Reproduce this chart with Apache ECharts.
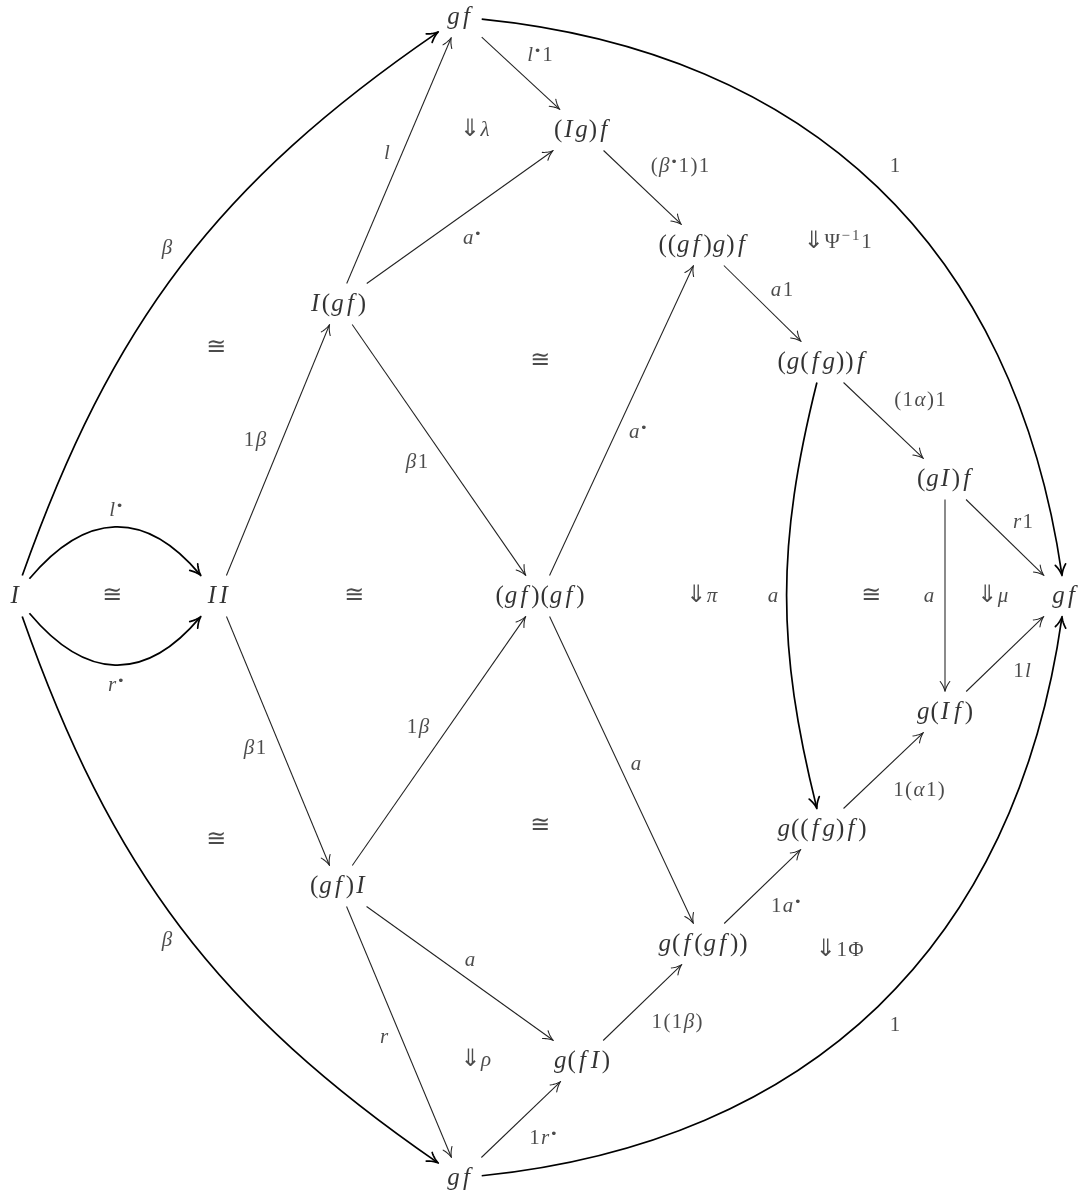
<!DOCTYPE html>
<html><head><meta charset="utf-8">
<script src="https://cdn.jsdelivr.net/npm/echarts@6/dist/echarts.min.js"></script>
<style>html,body{margin:0;padding:0;background:#fff}#c{width:1085px;height:1195px}</style>
</head><body><div id="c"></div>
<script>
// ---- nodes (objects of the diagram) ----
const nodeIds    = ['I','II','gfT','Ig_f','I_gf','gfg_f','gfg2','gI_f','gfR','gfgf','g_If','g_fgf','gf_I','g_fgf2','g_fI','gfB'];
const nodeLabels = ['I','II','gf','(Ig)f','I(gf)','((gf)g)f','(g(fg))f','(gI)f','gf','(gf)(gf)','g(If)','g((fg)f)','(gf)I','g(f(gf))','g(fI)','gf'];
const nodeX      = [15, 218, 460, 582, 338, 703, 822, 945, 1065, 540, 945, 822, 338, 703, 582, 460];
const nodeY      = [596, 596, 17, 130, 304, 245, 362, 479, 596, 596, 712, 829, 886, 944, 1061, 1178];

// ---- arrows (1-cells) ----
const edgeFrom   = ['I','I','gfT','gfB','I','I','II','II','I_gf','gfT','I_gf','Ig_f','I_gf','gfgf','gfg_f','gfg2','gI_f','gI_f','g_If','gfg2','g_fgf','gf_I','gfgf','g_fgf2','gf_I','g_fI','gf_I','gfB'];
const edgeTo     = ['gfT','gfB','gfR','gfR','II','II','I_gf','gf_I','gfT','Ig_f','Ig_f','gfg_f','gfgf','gfg_f','gfg2','gI_f','gfR','g_If','gfR','g_fgf','g_If','gfgf','g_fgf2','g_fgf','g_fI','g_fgf2','gfB','g_fI'];
const edgeText   = ['β','β','1','1','l•','r•','1β','β1','l','l•1','a•','(β•1)1','β1','a•','a1','(1α)1','r1','a','1l','a','1(α1)','1β','a','1a•','a','1(1β)','r','1r•'];
const edgeBend   = [-18, 18, -38, 38, -50, 50, 0,0,0,0,0,0,0,0,0,0,0,0,0, 14, 0,0,0,0,0,0,0,0];
const edgeLoose  = [1, 1, 1.05, 1.05, 1.3, 1.3, 1,1,1,1,1,1,1,1,1,1,1,1,1, 1, 1,1,1,1,1,1,1,1];
const edgeLabelX = [167, 167, 895, 895, 116, 116, 255, 255, 387, 540, 472, 680, 417, 638, 782, 920, 1023, 929, 1022, 773, 919, 418, 636, 786, 470, 677, 384, 543];
const edgeLabelY = [248, 940, 166, 1025, 510, 685, 440, 748, 153, 55, 238, 166, 462, 432, 290, 400, 522, 596, 671, 596, 790, 727, 764, 906, 960, 1022, 1037, 1138];

// ---- 2-cells ----
const cellText = ['⇓λ','⇓Ψ⁻¹1','≅','≅','≅','≅','⇓π','≅','⇓μ','≅','≅','⇓1Φ','⇓ρ'];
const cellX    = [475, 838, 216, 540, 112, 354, 702, 871, 993, 216, 540, 840, 476];
const cellY    = [130, 242, 348, 361, 596, 596, 596, 596, 596, 840, 826, 950, 1060];

const FAM = "'Liberation Serif','DejaVu Serif',serif";
const SYM = "'DejaVu Sans','DejaVu Serif',sans-serif";
const NODE_SIZE = 25, LAB_SIZE = 21;

function charClass(ch){
  if (ch === 'f') return 'f';
  if (ch === 'I') return 'I';
  if (ch === '•') return 'd';
  if (ch === '⁻' || ch === '¹') return 's';
  if (ch === '⇓') return 'y';
  if (ch === '≅') return 'c';
  if (/[a-zA-Zαβλμπρ]/.test(ch)) return 'i';
  return 'u';
}
function mathRich(s){
  let out = '';
  for (const ch of s){
    const k = charClass(ch);
    let t = ch;
    if (ch === '⁻') t = '−';
    if (ch === '¹') t = '1';
    out += '{' + k + '|' + t + '}';
  }
  return out;
}
function richFor(size, color, pad){
  const lh = Math.round(size * 1.25);
  const it = {fontFamily: FAM, fontStyle: 'italic', fontSize: size, color: color, lineHeight: lh, padding: [0, pad, 0, pad]};
  return {
    i: it,
    f: Object.assign({}, it, {padding: [0, pad + size*0.11, 0, pad + size*0.09]}),
    I: Object.assign({}, it, {padding: [0, pad + size*0.06, 0, pad + size*0.04]}),
    u: {fontFamily: FAM, fontSize: size, color: color, lineHeight: lh, padding: [0, pad, 0, pad]},
    y: {fontFamily: SYM, fontSize: Math.round(size*1.15), color: color, lineHeight: lh, padding: [0, 0, 0, 0]},
    c: {fontFamily: SYM, fontSize: Math.round(size*1.15), color: color, lineHeight: lh, padding: [0, 0, 0, 0]},
    d: {fontFamily: SYM, fontSize: Math.round(size*0.6), color: color, lineHeight: Math.round(size*0.6), verticalAlign: 'top', padding: [Math.round(size*0.12), 0, 0, 0]},
    s: {fontFamily: FAM, fontSize: Math.round(size*0.7), color: color, lineHeight: Math.round(size*0.7), verticalAlign: 'top', padding: [0, 1, 0, 1]}
  };
}

// measure label widths for node boxes
const mctx = document.createElement('canvas').getContext('2d');
function measure(s, size, pad){
  let w = 0;
  for (const ch of s){
    const k = charClass(ch);
    const ital = (k === 'i' || k === 'f' || k === 'I');
    mctx.font = (ital ? 'italic ' : '') + size + 'px ' + FAM;
    w += mctx.measureText(ch).width + 2*pad;
    if (k === 'f') w += size*0.2;
    if (k === 'I') w += size*0.1;
  }
  return w;
}
const NODE_PAD = 0.5, LAB_PAD = 0.7;
const INNER = 8.5, HH = 20.5;
const nodeIndex = {};
nodeIds.forEach((id, i) => nodeIndex[id] = i);
const nodeHW = nodeLabels.map(s => measure(s, NODE_SIZE, NODE_PAD)/2 + INNER);

function rot(v, a){ const c = Math.cos(a), s = Math.sin(a); return [v[0]*c - v[1]*s, v[0]*s + v[1]*c]; }
function boxExit(i, v){
  const hw = nodeHW[i], hh = HH;
  const tx = Math.abs(v[0]) > 1e-9 ? hw/Math.abs(v[0]) : Infinity;
  const ty = Math.abs(v[1]) > 1e-9 ? hh/Math.abs(v[1]) : Infinity;
  const t = Math.min(tx, ty);
  return [nodeX[i] + v[0]*t, nodeY[i] + v[1]*t];
}

// geometry of each edge (in axis units = pixels)
const edgeGeom = edgeFrom.map((f, k) => {
  const a = nodeIndex[f], b = nodeIndex[edgeTo[k]];
  const dx = nodeX[b]-nodeX[a], dy = nodeY[b]-nodeY[a];
  const L = Math.hypot(dx, dy);
  const u = [dx/L, dy/L];
  if (!edgeBend[k]){
    const p1 = boxExit(a, u), p2 = boxExit(b, [-u[0], -u[1]]);
    return {curve: false, p1, p2, dir: u};
  }
  const ang = edgeBend[k]*Math.PI/180;
  const v1 = rot(u, ang);
  const v2r = rot(u, -ang); const v2 = [-v2r[0], -v2r[1]];
  const p1 = boxExit(a, v1), p2 = boxExit(b, v2);
  const D = Math.hypot(p2[0]-p1[0], p2[1]-p1[1]);
  const d = 0.3915 * edgeLoose[k] * D;
  const c1 = [p1[0]+v1[0]*d, p1[1]+v1[1]*d];
  const c2 = [p2[0]+v2[0]*d, p2[1]+v2[1]*d];
  return {curve: true, p1, p2, c1, c2, dir: [-v2[0], -v2[1]]};
});

function arrowHead(T, dir, L, W){
  const b = [-dir[0], -dir[1]], n = [-dir[1], dir[0]];
  const side = (sg) => {
    const B = [T[0]+b[0]*L+sg*n[0]*W, T[1]+b[1]*L+sg*n[1]*W];
    const C = [T[0]+b[0]*L*0.5+sg*n[0]*W*0.22, T[1]+b[1]*L*0.5+sg*n[1]*W*0.22];
    const arr = [];
    for (let i = 0; i <= 8; i++){
      const t = i/8, m = 1-t;
      arr.push([m*m*B[0]+2*m*t*C[0]+t*t*T[0], m*m*B[1]+2*m*t*C[1]+t*t*T[1]]);
    }
    return arr;
  };
  const s1 = side(1), s2 = side(-1).reverse();
  return s1.concat(s2.slice(1));
}

const edgeData = edgeGeom.map((g, k) => [g.p1[0], g.p1[1], g.p2[0], g.p2[1], k]);

const chart = echarts.init(document.getElementById('c'), null, {renderer: 'canvas'});
chart.setOption({
  animation: false,
  backgroundColor: '#fff',
  grid: {left: 0, right: 0, top: 0, bottom: 0},
  xAxis: {type: 'value', min: 0, max: 1085, show: false},
  yAxis: {type: 'value', min: 0, max: 1195, inverse: true, show: false},
  series: [
    {
      type: 'custom',
      coordinateSystem: 'cartesian2d',
      silent: true,
      encode: {x: [0, 2], y: [1, 3]},
      data: edgeData,
      renderItem: function(params, api){
        const k = api.value(4);
        const g = edgeGeom[k];
        const thick = !!edgeBend[k];
        const lw = thick ? 1.7 : 1.05;
        const col = thick ? '#000' : '#222';
        const P = p => api.coord(p);
        const p1 = P(g.p1);
        const dir = g.dir;
        const back = thick ? 1.2 : 0.8;
        const pe = P([g.p2[0]-dir[0]*back, g.p2[1]-dir[1]*back]);
        let shaft;
        if (g.curve){
          const c1 = P(g.c1), c2 = P(g.c2);
          shaft = {type: 'bezierCurve', shape: {x1: p1[0], y1: p1[1], x2: pe[0], y2: pe[1], cpx1: c1[0], cpy1: c1[1], cpx2: c2[0], cpy2: c2[1]},
                   style: {stroke: col, lineWidth: lw, fill: null}};
        } else {
          shaft = {type: 'line', shape: {x1: p1[0], y1: p1[1], x2: pe[0], y2: pe[1]}, style: {stroke: col, lineWidth: lw}};
        }
        const head = arrowHead(g.p2, dir, thick ? 11 : 10, thick ? 5.2 : 4.8).map(P);
        return {type: 'group', children: [
          shaft,
          {type: 'polyline', shape: {points: head}, style: {stroke: col, lineWidth: lw, fill: null, lineJoin: 'round', lineCap: 'round'}}
        ]};
      }
    },
    {
      type: 'scatter', silent: true, symbolSize: 1,
      itemStyle: {color: 'rgba(0,0,0,0)'},
      data: nodeLabels.map((s, i) => [nodeX[i], nodeY[i], s]),
      label: {show: true, position: 'inside', align: 'center', verticalAlign: 'middle',
        formatter: p => mathRich(p.data[2]), rich: richFor(NODE_SIZE, '#000', NODE_PAD)}
    },
    {
      type: 'scatter', silent: true, symbolSize: 1,
      itemStyle: {color: 'rgba(0,0,0,0)'},
      data: edgeText.map((s, i) => [edgeLabelX[i], edgeLabelY[i], s]),
      label: {show: true, position: 'inside', align: 'center', verticalAlign: 'middle',
        formatter: p => mathRich(p.data[2]), rich: richFor(LAB_SIZE, '#1e1e1e', LAB_PAD)}
    },
    {
      type: 'scatter', silent: true, symbolSize: 1,
      itemStyle: {color: 'rgba(0,0,0,0)'},
      data: cellText.map((s, i) => [cellX[i], cellY[i], s]),
      label: {show: true, position: 'inside', align: 'center', verticalAlign: 'middle',
        formatter: p => mathRich(p.data[2]), rich: richFor(LAB_SIZE, '#1e1e1e', LAB_PAD)}
    }
  ]
});
</script></body></html>
